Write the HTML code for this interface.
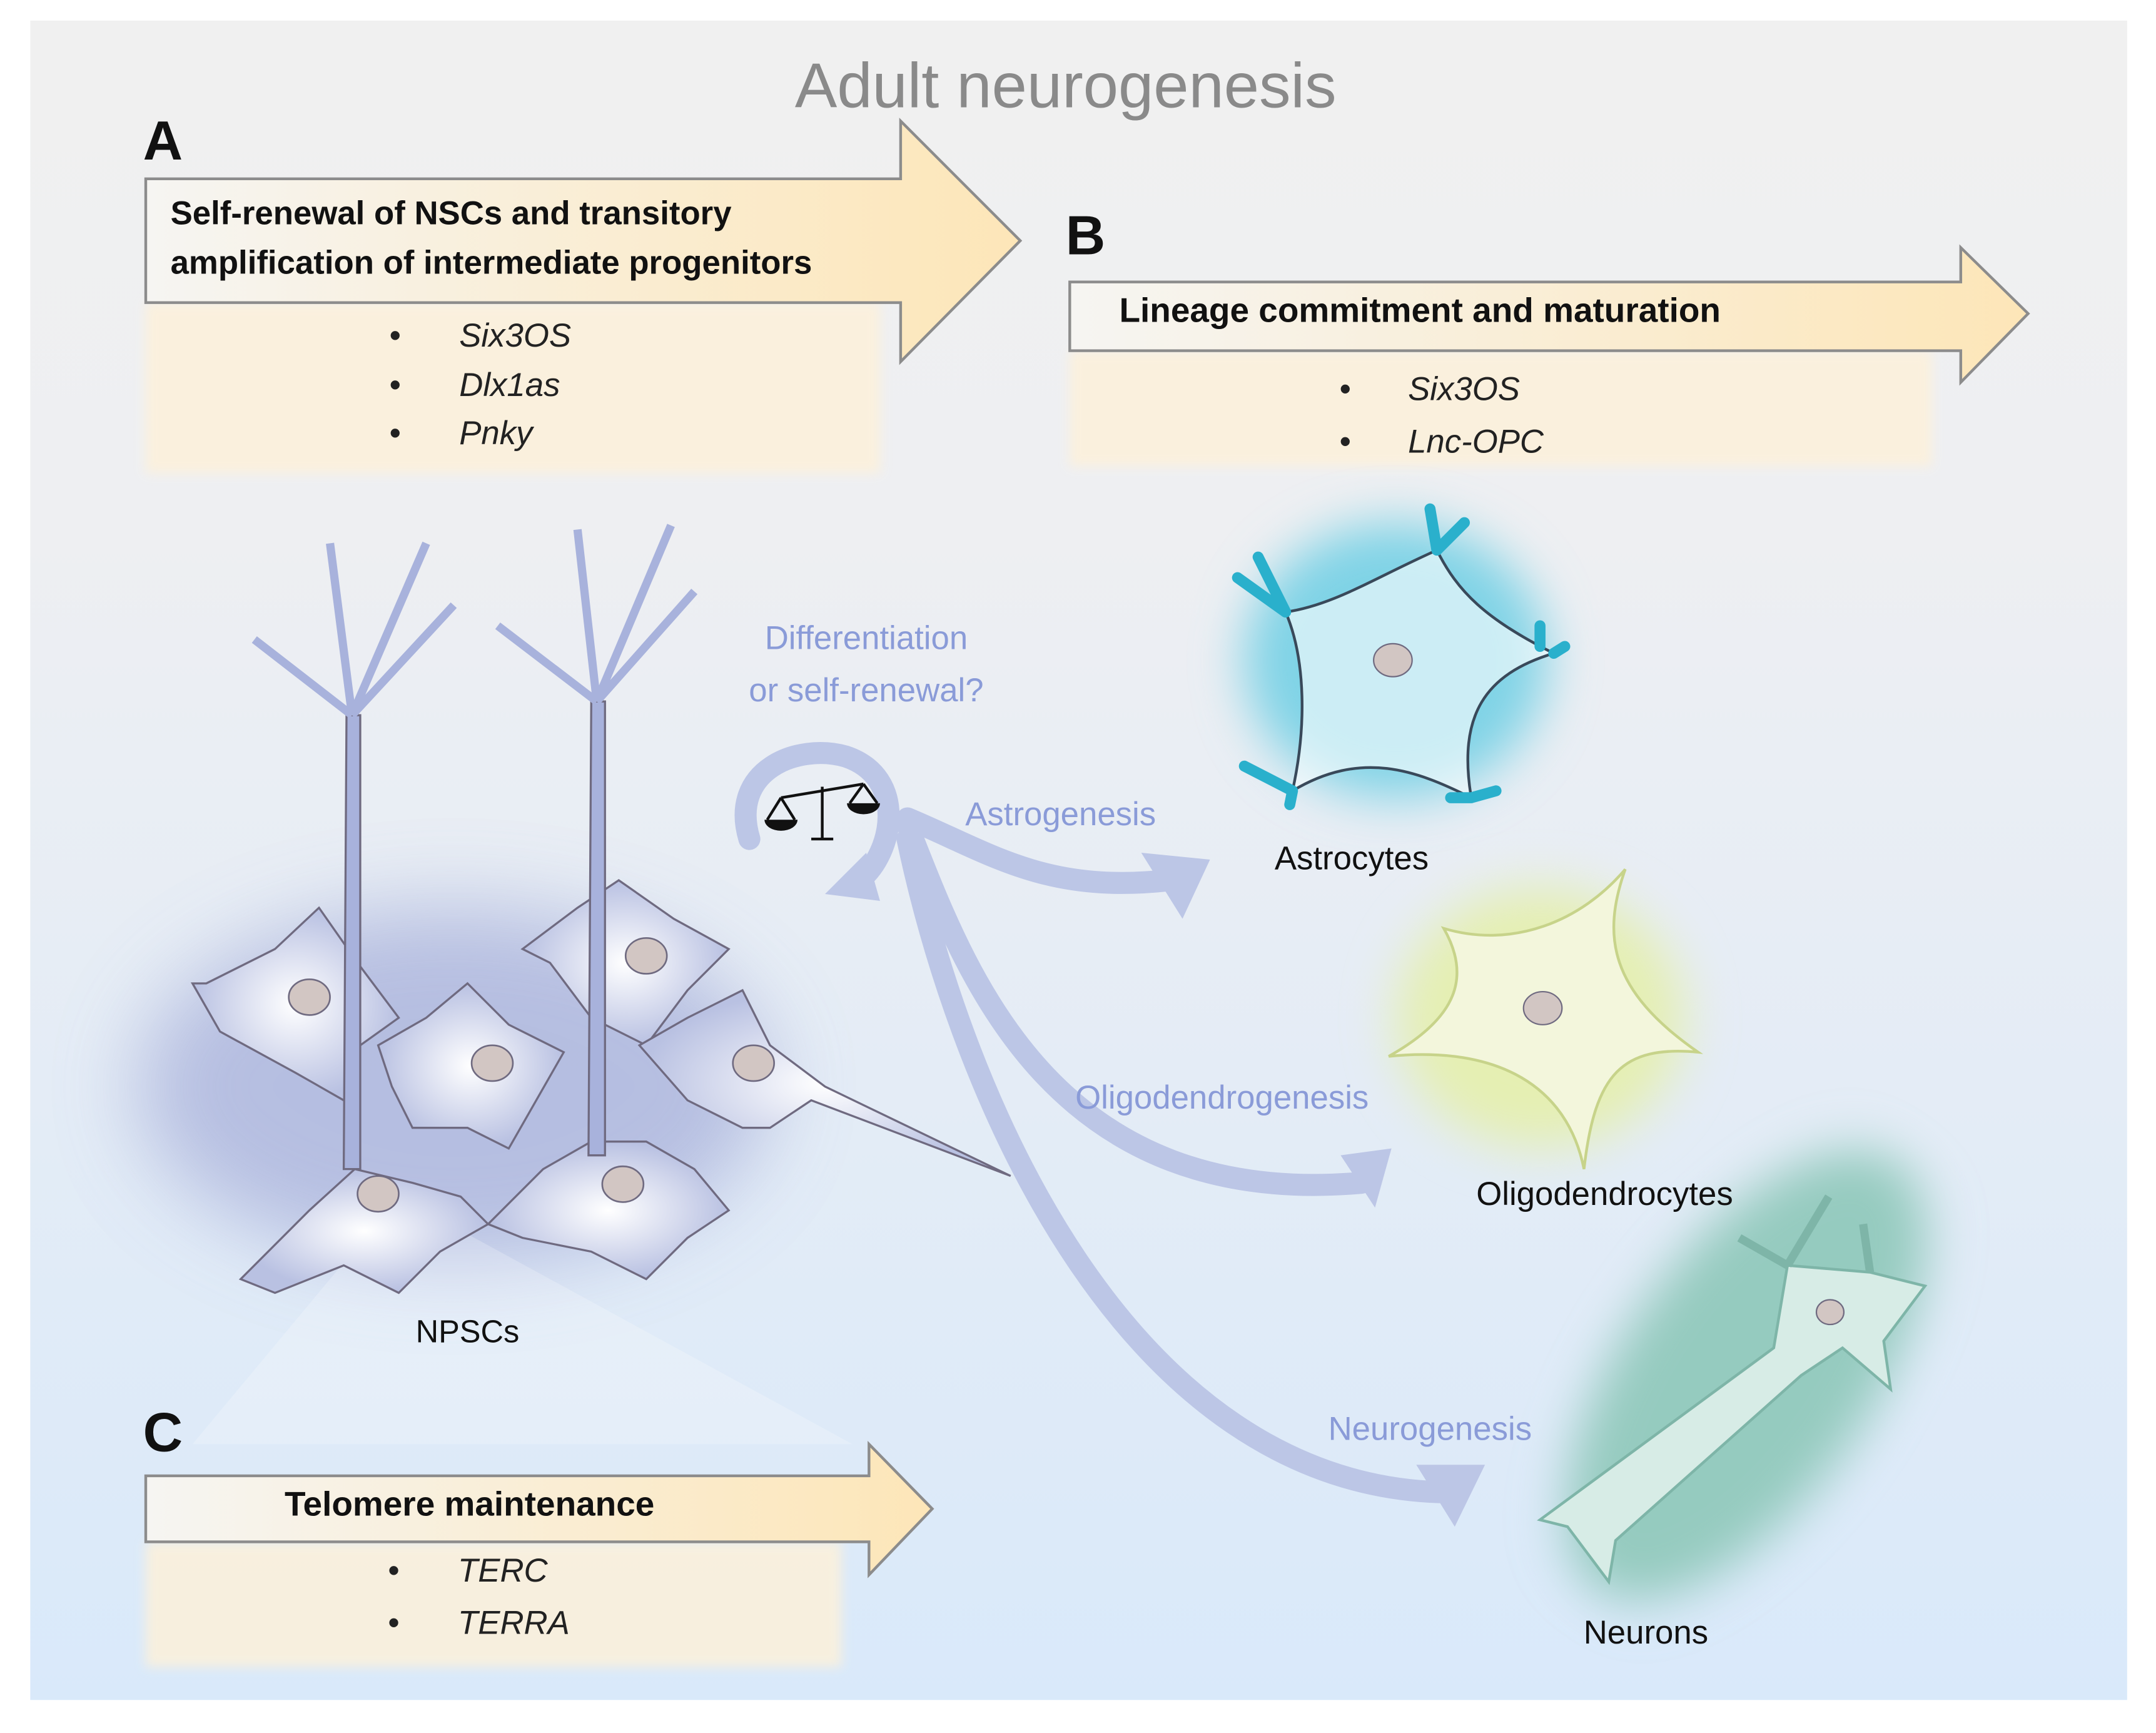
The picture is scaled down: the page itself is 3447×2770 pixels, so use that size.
<!DOCTYPE html>
<html><head><meta charset="utf-8"><style>
html,body{margin:0;padding:0;background:#fff;}
svg{display:block;}
text{font-family:"Liberation Sans",sans-serif;}
</style></head><body>
<svg width="3447" height="2770" viewBox="0 0 1568 1260" preserveAspectRatio="none" xmlns="http://www.w3.org/2000/svg">
<defs>
<linearGradient id="bg" x1="0" y1="0" x2="0" y2="1">
<stop offset="0" stop-color="#f0f0f0"/><stop offset="0.3" stop-color="#eeeff2"/><stop offset="1" stop-color="#d9e9fa"/></linearGradient>
<linearGradient id="arr" x1="0" y1="0" x2="1" y2="0">
<stop offset="0" stop-color="#f6f5f2"/><stop offset="1" stop-color="#fde6b8"/></linearGradient>
<filter id="b1" x="-50%" y="-50%" width="200%" height="200%"><feGaussianBlur stdDeviation="4"/></filter>
<filter id="b2" x="-50%" y="-50%" width="200%" height="200%"><feGaussianBlur stdDeviation="30"/></filter>
<filter id="b3" x="-50%" y="-50%" width="200%" height="200%"><feGaussianBlur stdDeviation="18"/></filter>
<radialGradient id="cell" cx="0.5" cy="0.5" r="0.5"><stop offset="0" stop-color="#ffffff"/><stop offset="1" stop-color="#b9c1e2"/></radialGradient>
</defs>
<rect x="0" y="0" width="1568" height="1260" fill="#fff"/>
<rect x="22" y="15" width="1525" height="1221" fill="url(#bg)"/>
<text x="775" y="78" font-size="46" fill="#8a8a8a" text-anchor="middle">Adult neurogenesis</text>

<!-- A -->
<rect x="106" y="220" width="534" height="124" fill="#fdf1da" opacity="0.85" filter="url(#b1)"/>
<path d="M106,130 H655 V88 L742,175 L655,263 V220 H106 Z" fill="url(#arr)" stroke="#8c8c8c" stroke-width="2"/>
<text x="104" y="116" font-size="40" font-weight="bold" fill="#111">A</text>
<text x="124" y="163" font-size="24" font-weight="bold" fill="#111">Self-renewal of NSCs and transitory</text>
<text x="124" y="199" font-size="24" font-weight="bold" fill="#111">amplification of intermediate progenitors</text>
<g font-size="24" fill="#222" font-style="italic">
<text x="283" y="252">•</text><text x="334" y="252">Six3OS</text>
<text x="283" y="288">•</text><text x="334" y="288">Dlx1as</text>
<text x="283" y="323">•</text><text x="334" y="323">Pnky</text></g>

<!-- B -->
<rect x="778" y="255" width="627" height="84" fill="#fdf1da" opacity="0.85" filter="url(#b1)"/>
<path d="M778,205 H1426 V180 L1475,228 L1426,278 V255 H778 Z" fill="url(#arr)" stroke="#8c8c8c" stroke-width="2"/>
<text x="775" y="185" font-size="40" font-weight="bold" fill="#111">B</text>
<text x="814" y="234" font-size="25" font-weight="bold" fill="#111">Lineage commitment and maturation</text>
<g font-size="24" fill="#222" font-style="italic">
<text x="974" y="291">•</text><text x="1024" y="291">Six3OS</text>
<text x="974" y="329">•</text><text x="1024" y="329">Lnc-OPC</text></g>

<!-- glows -->
<ellipse cx="330" cy="790" rx="230" ry="130" fill="#aab3dc" opacity="0.8" filter="url(#b2)"/>
<ellipse cx="1015" cy="480" rx="110" ry="100" fill="#7fd3e6" filter="url(#b3)"/>
<ellipse cx="1120" cy="740" rx="105" ry="95" fill="#e5efb2" filter="url(#b3)"/>
<ellipse cx="1270" cy="1000" rx="90" ry="190" transform="rotate(35 1270 1000)" fill="#95cbbf" filter="url(#b3)"/>
<polygon points="290,870 140,1050 620,1050" fill="#ffffff" opacity="0.22"/>

<!-- C -->
<rect x="106" y="1121" width="506" height="91" fill="#fdf1da" opacity="0.85" filter="url(#b1)"/>
<path d="M106,1073 H632 V1050 L678,1097 L632,1145 V1121 H106 Z" fill="url(#arr)" stroke="#8c8c8c" stroke-width="2"/>
<text x="104" y="1055" font-size="40" font-weight="bold" fill="#111">C</text>
<text x="207" y="1102" font-size="25" font-weight="bold" fill="#111">Telomere maintenance</text>
<g font-size="24" fill="#222" font-style="italic">
<text x="282" y="1150">•</text><text x="333" y="1150">TERC</text>
<text x="282" y="1188">•</text><text x="333" y="1188">TERRA</text></g>

<!-- arrows -->
<g fill="none" stroke="#bcc6e6" stroke-width="16" stroke-linecap="round">
<path d="M545,610 C530,560 580,540 615,550 C660,565 650,620 625,640"/>
<path d="M660,595 C720,620 760,650 850,640"/>
<path d="M660,600 C700,700 760,880 990,860"/>
<path d="M660,610 C700,800 820,1080 1050,1085"/>
</g>
<g fill="#bcc6e6">
<polygon points="600,650 630,620 640,655"/>
<polygon points="830,620 880,625 860,668"/>
<polygon points="975,840 1012,835 1000,878"/>
<polygon points="1030,1065 1080,1065 1058,1110"/>
</g>
<!-- scale -->
<g stroke="#111" stroke-width="2" fill="none">
<line x1="598" y1="572" x2="598" y2="610"/><line x1="590" y1="610" x2="606" y2="610"/>
<line x1="568" y1="580" x2="628" y2="570"/>
<path d="M568,580 L558,596 M568,580 L578,596 M628,570 L618,584 M628,570 L638,584"/>
</g>
<path d="M556,596 A12,8 0 0 0 580,596 Z" fill="#111"/>
<path d="M616,584 A12,8 0 0 0 640,584 Z" fill="#111"/>

<g font-size="24" fill="#8a9bd8">
<text x="630" y="472" text-anchor="middle">Differentiation</text>
<text x="630" y="510" text-anchor="middle">or self-renewal?</text>
<text x="702" y="600">Astrogenesis</text>
<text x="782" y="806">Oligodendrogenesis</text>
<text x="966" y="1047">Neurogenesis</text></g>

<!-- NPSCs cells -->
<g stroke="#6f6a80" stroke-width="1.5" fill="url(#cell)">
<path d="M150,715 L200,690 L232,660 L260,700 L290,740 L262,760 L250,800 L215,780 L160,750 L140,715 Z"/>
<path d="M380,690 L420,660 L450,640 L490,668 L530,690 L500,720 L470,760 L430,740 L400,700 Z"/>
<path d="M275,760 L310,740 L340,715 L370,745 L410,765 L390,800 L370,835 L340,820 L300,820 L285,790 Z"/>
<path d="M465,760 L500,740 L540,720 L560,760 L600,790 L735,855 L590,800 L560,820 L540,820 L500,800 Z"/>
<path d="M175,930 L225,880 L258,850 L300,860 L335,870 L355,890 L320,910 L290,940 L250,920 L200,940 Z"/>
<path d="M355,890 L395,850 L430,830 L470,830 L505,850 L530,880 L500,900 L470,930 L430,910 L380,900 Z"/>
</g>
<g stroke="#6f6a80" stroke-width="1.5" fill="#a8b2dc">
<path d="M252,520 L250,850 L262,850 L262,520 Z"/>
<path d="M430,510 L428,840 L440,840 L440,510 Z"/>
<path d="M256,520 L185,465 M256,520 L240,395 M256,520 L310,395 M256,520 L330,440" stroke-width="6" stroke="#a8b2dc"/>
<path d="M434,510 L362,455 M434,510 L420,385 M434,510 L488,382 M434,510 L505,430" stroke-width="6" stroke="#a8b2dc"/>
</g>
<g fill="#d2c6c3" stroke="#6f6a80" stroke-width="1.2">
<ellipse cx="225" cy="725" rx="15" ry="13"/><ellipse cx="470" cy="695" rx="15" ry="13"/>
<ellipse cx="358" cy="773" rx="15" ry="13"/><ellipse cx="548" cy="773" rx="15" ry="13"/>
<ellipse cx="275" cy="868" rx="15" ry="13"/><ellipse cx="453" cy="861" rx="15" ry="13"/>
</g>
<text x="340" y="976" font-size="23" fill="#111" text-anchor="middle">NPSCs</text>

<!-- Astrocyte -->
<path d="M935,445 C970,440 1000,420 1045,400 C1060,430 1080,450 1130,475 C1080,490 1060,520 1070,580 C1030,560 990,545 940,575 C950,530 950,480 935,445 Z" fill="#ffffff" fill-opacity="0.6" stroke="#39495a" stroke-width="2"/>
<g stroke="#2ab0cc" stroke-width="8" fill="none" stroke-linecap="round">
<path d="M935,445 L900,420 M935,445 L915,405"/><path d="M1045,400 L1040,370 M1045,400 L1065,380"/>
<path d="M1130,475 L1138,470 M1120,470 L1120,455"/><path d="M1070,580 L1055,580 M1070,580 L1088,575"/>
<path d="M940,575 L905,557 M940,575 L938,585"/></g>
<ellipse cx="1013" cy="480" rx="14" ry="12" fill="#d2c6c3" stroke="#6f6a80"/>
<text x="983" y="632" font-size="24" fill="#111" text-anchor="middle">Astrocytes</text>

<!-- Oligodendrocyte -->
<path d="M1050,675 C1100,690 1150,670 1182,632 C1165,680 1170,720 1235,765 C1180,760 1160,780 1152,850 C1140,790 1090,760 1010,768 C1060,740 1070,710 1050,675 Z" fill="#f3f6dc" stroke="#c7d38a" stroke-width="2"/>
<ellipse cx="1122" cy="733" rx="14" ry="12" fill="#d2c6c3" stroke="#6f6a80"/>
<text x="1167" y="876" font-size="24" fill="#111" text-anchor="middle">Oligodendrocytes</text>

<!-- Neuron -->
<path d="M1300,920 L1360,925 L1400,935 L1370,975 L1375,1010 L1340,980 L1310,1000 L1175,1120 L1170,1150 L1140,1110 L1120,1105 L1290,980 Z" fill="#d7ece6" stroke="#7eb5a8" stroke-width="2"/>
<path d="M1300,920 L1265,900 M1300,920 L1330,870 M1360,925 L1355,890" stroke="#7eb5a8" stroke-width="6" fill="none"/>
<ellipse cx="1331" cy="954" rx="10" ry="9" fill="#d2c6c3" stroke="#6f6a80"/>
<text x="1197" y="1195" font-size="24" fill="#111" text-anchor="middle">Neurons</text>
</svg>
</body></html>
